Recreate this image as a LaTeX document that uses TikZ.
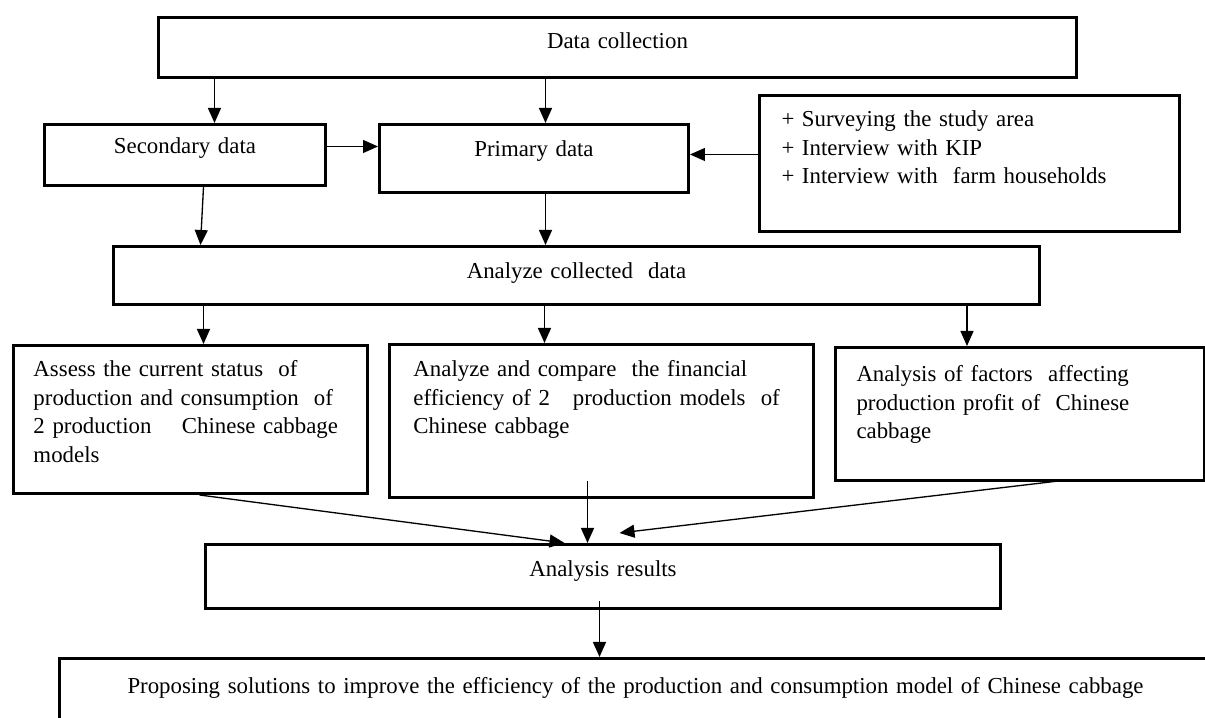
\documentclass[tikz,border=0pt]{standalone}
\usepackage{fontspec}
\setmainfont{Liberation Serif}
\usetikzlibrary{arrows.meta, positioning, calc}

\begin{document}
\begin{tikzpicture}[
  box/.style={rectangle, draw=black, line width=1.7pt, anchor=north west,
    inner sep=0pt, font=\fontsize{13pt}{16.2pt}\selectfont},
  mid/.style={box, align=center},
  para/.style={box, align=left},
  arr/.style={-{Triangle[length=0.3cm, width=0.26cm]}, line width=0.75pt}
]
  \useasboundingbox (0,0) rectangle (24.1,-14.36);

  % Nodes
  \node[mid, text width=18.36cm, text height=0.63cm, text depth=0.57cm] (collect) at (3.14,-0.32) {Data collection};
  \node[mid, text width=5.62cm, text height=0.59cm, text depth=0.63cm] (second) at (0.86,-2.46) {Secondary data};
  \node[mid, text width=6.18cm, text height=0.65cm, text depth=0.71cm] (primary) at (7.56,-2.46) {Primary data};
  \node[para, inner xsep=0.44cm, text width=7.52cm, text height=0.63cm, text depth=2.09cm] (methods) at (15.16,-1.88)
    {+ Surveying the study area\\+ Interview with KIP\\+ Interview with\ \ farm households};
  \node[mid, text width=18.52cm, text height=0.65cm, text depth=0.51cm] (analyze) at (2.24,-4.90) {Analyze collected\ \ data};
  \node[para, inner xsep=0.4cm, text width=6.28cm, text height=0.63cm, text depth=2.33cm] (assess) at (0.24,-6.88)
    {Assess the current status\ \ of\\production and consumption\ \ of\\2 production\quad\ Chinese cabbage\\models};
  \node[para, inner xsep=0.48cm, text width=7.52cm, text height=0.65cm, text depth=2.41cm] (compare) at (7.76,-6.86)
    {Analyze and compare\ \ the financial\\efficiency of 2\quad production models\ \ of\\Chinese cabbage};
  \node[para, inner xsep=0.42cm, text width=6.54cm, text height=0.69cm, text depth=1.97cm] (factors) at (16.68,-6.92)
    {Analysis of factors\ \ affecting\\production profit of\ \ Chinese\\cabbage};
  \node[mid, text width=15.9cm, text height=0.65cm, text depth=0.63cm] (results) at (4.08,-10.86) {Analysis results};
  \node[mid, text width=23.04cm, text height=0.71cm, text depth=0.65cm] (propose) at (1.16,-13.14)
    {Proposing solutions to improve the efficiency of the production and consumption model of Chinese cabbage};

  % Arrows
  \draw[arr] ([xshift=0.59cm]second.north |- collect.south) -- ([xshift=0.59cm]second.north);
  \draw[arr] ([xshift=0.23cm]primary.north |- collect.south) -- ([xshift=0.23cm]primary.north);
  \draw[arr] ([yshift=0.17cm]second.east) -- ([yshift=0.17cm]second.east -| primary.west);
  \draw[arr] ([yshift=0.18cm]methods.west) -- ([yshift=0.18cm]methods.west -| primary.east);
  \draw[arr] ([xshift=0.37cm]second.south) -- ([xshift=0.31cm]second.south |- analyze.north);
  \draw[arr] ([xshift=0.23cm]primary.south) -- ([xshift=0.23cm]primary.south |- analyze.north);
  \draw[arr] ([xshift=0.26cm]assess.north |- analyze.south) -- ([xshift=0.26cm]assess.north);
  \draw[arr] ([xshift=-1.14cm]compare.north |- analyze.south) -- ([xshift=-1.14cm]compare.north);
  \draw[arr] ([xshift=-1.06cm]factors.north |- analyze.south) -- ([xshift=-1.06cm]factors.north);
  \draw[arr] ([xshift=0.18cm]assess.south) -- ([xshift=-0.77cm]results.north);
  \draw[arr] ([xshift=-0.28cm,yshift=0.36cm]compare.south) -- ([xshift=-0.28cm]compare.south |- results.north);
  \draw[arr] ([xshift=0.94cm,yshift=0.04cm]factors.south) -- ([xshift=0.33cm,yshift=0.2cm]results.north);
  \draw[arr] ([xshift=-0.07cm,yshift=0.18cm]results.south) -- ([xshift=-0.07cm]results.south |- propose.north);
\end{tikzpicture}
\end{document}
